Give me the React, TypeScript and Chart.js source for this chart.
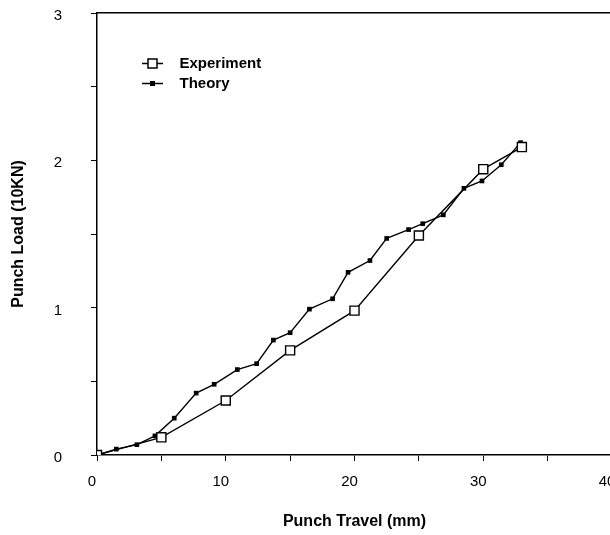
import React, { useEffect, useRef } from 'react';
import { Chart, registerables } from 'chart.js';

Chart.register(...registerables);

// ---- data ----
const seriesNames = ['Experiment', 'Theory'];
const experimentTravel = [0, 5, 10, 15, 20, 25, 30, 33];
const experimentLoad = [0, 0.12, 0.37, 0.71, 0.98, 1.49, 1.94, 2.09];
const theoryTravel = [0, 1.5, 3.1, 4.5, 6.0, 7.7, 9.1, 10.9, 12.4, 13.7, 15.0, 16.5, 18.3, 19.5, 21.2, 22.5, 24.2, 25.3, 26.9, 28.5, 29.9, 31.4, 32.9];
const theoryLoad = [0, 0.04, 0.07, 0.13, 0.25, 0.42, 0.48, 0.58, 0.62, 0.78, 0.83, 0.99, 1.06, 1.24, 1.32, 1.47, 1.53, 1.57, 1.63, 1.81, 1.86, 1.97, 2.12];
const xTickValues = [0, 10, 20, 30, 40];
const xTickLabels = ['0', '10', '20', '30', '40'];
const yTickValues = [0, 1, 2, 3];
const yTickLabels = ['0', '1', '2', '3'];
const xTitle = 'Punch Travel (mm)';
const yTitle = 'Punch Load (10KN)';

const FONT = "'Liberation Sans', Arial, Helvetica, sans-serif";

function legendIcon(filled: boolean): HTMLCanvasElement {
  const c = document.createElement('canvas');
  c.width = 62;
  c.height = 15;
  const g = c.getContext('2d')!;
  const cx = 46.5;
  const cy = 7.5;
  g.strokeStyle = '#000';
  g.lineWidth = 1.5;
  g.beginPath();
  g.moveTo(cx - 10.5, cy);
  g.lineTo(cx + 10.5, cy);
  g.stroke();
  if (filled) {
    g.fillStyle = '#000';
    g.fillRect(cx - 2.5, cy - 2.5, 5, 5);
  } else {
    g.fillStyle = '#fff';
    g.fillRect(cx - 4.5, cy - 4.5, 9, 9);
    g.strokeRect(cx - 4.5, cy - 4.5, 9, 9);
  }
  return c;
}

export default function App() {
  const ref = useRef<HTMLCanvasElement | null>(null);

  useEffect(() => {
    if (!ref.current) return;
    const icons = [legendIcon(false), legendIcon(true)];
    const chart = new Chart(ref.current, {
      type: 'line',
      data: {
        datasets: [
          {
            label: seriesNames[0],
            data: experimentTravel.map((x, i) => ({ x, y: experimentLoad[i] })),
            borderColor: '#000',
            borderWidth: 1.4,
            backgroundColor: '#fff',
            pointStyle: 'rect',
            pointRadius: 6.4,
            pointBorderWidth: 1.4,
            pointBorderColor: '#000',
            pointBackgroundColor: '#fff',
            tension: 0,
          },
          {
            label: seriesNames[1],
            data: theoryTravel.map((x, i) => ({ x, y: theoryLoad[i] })),
            borderColor: '#000',
            borderWidth: 1.4,
            backgroundColor: '#000',
            pointStyle: 'rect',
            pointRadius: 3.3,
            pointBorderWidth: 0,
            pointBackgroundColor: '#000',
            tension: 0,
          },
        ],
      },
      options: {
        animation: false,
        responsive: false,
        layout: { padding: { left: 0, top: 13, right: 28, bottom: 0 } },
        plugins: {
          tooltip: { enabled: false },
          legend: {
            position: 'chartArea',
            fullSize: false,
            align: 'start',
            title: { display: true, text: ' ', color: 'rgba(0,0,0,0)', font: { size: 10 }, padding: { top: 39, bottom: 0 } },
            labels: {
              usePointStyle: true,
              pointStyleWidth: 70,
              padding: 5,
              color: '#000',
              font: { family: FONT, size: 15, weight: 'bold' },
              generateLabels: (c: any) => {
                const items = Chart.defaults.plugins.legend.labels.generateLabels(c);
                return items.map((it: any, i: number) => ({ ...it, pointStyle: icons[i] }));
              },
            },
          },
        },
        scales: {
          x: {
            type: 'linear',
            position: 'bottom',
            min: 0,
            max: 40,
            afterFit: (s: any) => { s.height = 80; },
            border: { display: true, color: '#000', width: 1.5 },
            grid: { drawOnChartArea: false, drawTicks: true, tickLength: 6, color: '#000', lineWidth: 1 },
            ticks: {
              stepSize: 5,
              padding: 12,
              labelOffset: -5,
              maxRotation: 0,
              autoSkip: false,
              color: '#000',
              font: { family: FONT, size: 15 },
              callback: (v: any) => {
                const i = xTickValues.indexOf(Number(v));
                return i >= 0 ? xTickLabels[i] : '';
              },
            },
            title: {
              display: true,
              text: xTitle,
              color: '#000',
              font: { family: FONT, size: 16, weight: 'bold' },
              padding: { top: 0, bottom: 3.4 },
            },
          },
          x2: {
            type: 'linear',
            position: 'top',
            min: 0,
            max: 40,
            afterFit: (s: any) => { s.height = 0; },
            border: { display: true, color: '#000', width: 1.5 },
            grid: { drawOnChartArea: false, drawTicks: false },
            ticks: { display: false },
          },
          y: {
            type: 'linear',
            min: 0,
            max: 3,
            afterFit: (s: any) => { s.width = 97; s.paddingTop = 9; s.paddingBottom = 9; },
            border: { display: true, color: '#000', width: 1.5 },
            grid: { drawOnChartArea: false, drawTicks: true, tickLength: 6, color: '#000', lineWidth: 1 },
            ticks: {
              stepSize: 0.5,
              padding: 29,
              labelOffset: 3,
              color: '#000',
              font: { family: FONT, size: 15 },
              callback: (v: any) => {
                const i = yTickValues.indexOf(Number(v));
                return i >= 0 ? yTickLabels[i] : '';
              },
            },
            title: {
              display: true,
              text: yTitle,
              color: '#000',
              font: { family: FONT, size: 16, weight: 'bold' },
              padding: { top: 9, bottom: 0 },
            },
          },
        },
      },
    } as any);
    return () => chart.destroy();
  }, []);

  return (
    <div style={{ position: 'fixed', left: 0, top: 0, width: 610, height: 535, overflow: 'hidden', background: '#fff' }}>
      <canvas ref={ref} width={640} height={535} style={{ display: 'block' }} />
    </div>
  );
}
